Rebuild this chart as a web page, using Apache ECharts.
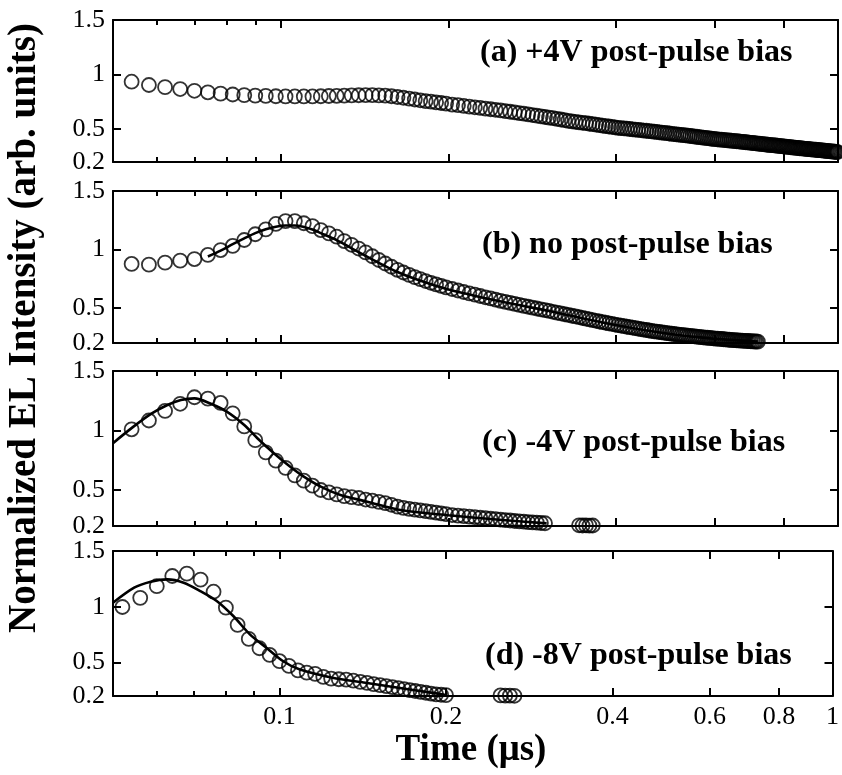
<!DOCTYPE html>
<html><head><meta charset="utf-8">
<script src="https://cdn.jsdelivr.net/npm/echarts@6/dist/echarts.min.js"></script>
<style>html,body{margin:0;padding:0;background:#fff}#c{width:842px;height:775px}</style>
</head><body><div id="c"></div>
<script>
// ---- sampling times (µs) for panels a, b, c ----
const timeMain = [
0.054,0.058,0.062,0.066,0.070,0.074,0.078,0.082,0.086,0.090,
0.094,0.098,0.102,0.106,0.110,0.114,0.118,0.122,0.126,0.130,
0.134,0.138,0.142,0.146,0.150,0.154,0.158,0.162,0.166,0.170,
0.174,0.178,0.182,0.186,0.190,0.194,0.198,
0.203,0.208,0.213,0.218,0.223,0.228,0.233,0.238,0.243,0.248,0.253,0.258,0.263,0.268,0.273,0.278,0.283,0.288,0.293,0.298,
0.303,0.308,0.313,0.318,0.323,0.328,0.333,0.338,0.343,0.348,0.353,0.358,0.363,0.368,0.373,0.378,0.383,0.388,0.393,0.398,
0.403,0.408,0.413,0.418,0.423,0.428,0.433,0.438,0.443,0.448,0.453,0.458,0.463,0.468,0.473,0.478,0.483,0.488,0.493,0.498,
0.503,0.508,0.513,0.518,0.523,0.528,0.533,0.538,0.543,0.548,0.553,0.558,0.563,0.568,0.573,0.578,0.583,0.588,0.593,0.598,
0.603,0.608,0.613,0.618,0.623,0.628,0.633,0.638,0.643,0.648,0.653,0.658,0.663,0.668,0.673,0.678,0.683,0.688,0.693,0.698,
0.703,0.708,0.713,0.718,0.723,0.728,0.733,0.738,0.743,0.748,0.753,0.758,0.763,0.768,0.773,0.778,0.783,0.788,0.793,0.798,
0.803,0.808,0.813,0.818,0.823,0.828,0.833,0.838,0.843,0.848,0.853,0.858,0.863,0.868,0.873,0.878,0.883,0.888,0.893,0.898,
0.903,0.908,0.913,0.918,0.923,0.928,0.933,0.938,0.943,0.948,0.953,0.958,0.963,0.968,0.973,0.978,0.983,0.988,0.993,0.998
];
// (a) +4V post-pulse bias
const valuesA = [
0.935,0.905,0.885,0.868,0.852,0.838,0.826,0.818,0.812,0.808,
0.805,0.802,0.800,0.800,0.800,0.800,0.802,0.804,0.806,0.808,
0.810,0.811,0.812,0.812,0.810,0.807,0.802,0.795,0.788,0.780,
0.772,0.765,0.758,0.752,0.746,0.740,0.735,
0.726,0.720,0.713,0.707,0.701,0.695,0.689,0.683,0.678,0.672,0.666,0.660,0.654,0.648,0.642,0.636,0.630,0.624,0.618,0.612,
0.607,0.601,0.595,0.589,0.583,0.577,0.572,0.568,0.563,0.559,0.555,0.550,0.546,0.542,0.538,0.533,0.529,0.525,0.521,0.517,
0.513,0.510,0.508,0.505,0.502,0.499,0.497,0.494,0.491,0.488,0.486,0.483,0.480,0.477,0.475,0.472,0.469,0.466,0.464,0.461,
0.458,0.456,0.453,0.451,0.448,0.446,0.443,0.441,0.438,0.436,0.433,0.431,0.428,0.426,0.423,0.421,0.418,0.416,0.413,0.411,
0.409,0.407,0.405,0.404,0.402,0.400,0.398,0.397,0.395,0.393,0.391,0.390,0.388,0.386,0.384,0.383,0.381,0.379,0.377,0.376,
0.374,0.372,0.371,0.369,0.367,0.366,0.364,0.362,0.360,0.358,0.357,0.355,0.354,0.352,0.351,0.349,0.348,0.346,0.345,0.343,
0.341,0.340,0.338,0.337,0.335,0.334,0.332,0.331,0.329,0.328,0.326,0.325,0.324,0.322,0.321,0.320,0.319,0.318,0.316,0.315,
0.314,0.313,0.312,0.310,0.309,0.308,0.307,0.306,0.304,0.303,0.302,0.301,0.300,0.298,0.297,0.296,0.295,0.294,0.292,0.291
];
// (b) no post-pulse bias
const valuesB = [
0.876,0.870,0.887,0.904,0.918,0.953,0.995,1.030,1.081,1.130,
1.172,1.218,1.243,1.243,1.224,1.200,1.166,1.138,1.109,1.072,
1.040,1.008,0.975,0.942,0.910,0.880,0.852,0.826,0.803,0.782,
0.763,0.746,0.730,0.715,0.701,0.688,0.676,
0.662,0.649,0.636,0.624,0.613,0.602,0.591,0.581,0.571,0.561,0.552,0.543,0.534,0.526,0.518,0.510,0.502,0.495,0.488,0.481,
0.474,0.467,0.460,0.453,0.446,0.440,0.433,0.427,0.421,0.414,0.408,0.402,0.396,0.390,0.384,0.379,0.373,0.368,0.363,0.358,
0.353,0.348,0.344,0.339,0.335,0.331,0.327,0.323,0.319,0.315,0.311,0.307,0.304,0.300,0.297,0.294,0.291,0.288,0.285,0.282,
0.279,0.277,0.274,0.272,0.269,0.267,0.265,0.262,0.260,0.258,0.256,0.254,0.252,0.250,0.248,0.246,0.245,0.243,0.241,0.240,
0.238,0.237,0.235,0.234,0.232,0.231,0.229,0.228,0.227,0.225,0.224,0.223,0.222,0.221,0.220,0.219,0.218,0.217,0.216,0.215,
0.214,0.213,0.213,0.212
];
const fitTimeB = [0.074,0.078,0.082,0.086,0.090,0.094,0.098,0.102,0.106,0.110,0.114,0.118,0.126,0.134,0.142,0.150,0.160,0.175,0.200,0.250,0.300,0.374,0.460,0.566,0.718];
const fitValB  = [0.940,0.990,1.045,1.095,1.140,1.172,1.195,1.205,1.205,1.192,1.170,1.140,1.080,1.010,0.945,0.885,0.818,0.745,0.658,0.552,0.478,0.380,0.303,0.248,0.212];
// (c) -4V post-pulse bias
const valuesC = [
1.011,1.085,1.165,1.225,1.280,1.268,1.232,1.145,1.035,0.920,
0.818,0.748,0.688,0.625,0.580,0.538,0.502,0.482,0.465,0.450,
0.442,0.435,0.422,0.412,0.402,0.392,0.378,0.362,0.352,0.344,
0.337,0.331,0.325,0.318,0.312,0.306,0.300,
0.292,0.287,0.283,0.278,0.274,0.269,0.265,0.261,0.257,0.253,0.249,0.246,0.242,0.239,0.236,0.233,0.230,0.228,0.225,0.223
];
const clusterTimeC = [0.343,0.348,0.353,0.358,0.363];
const clusterValC  = [0.206,0.204,0.205,0.203,0.204];
const fitTimeC = [0.050,0.0542,0.0585,0.0626,0.0662,0.070,0.0749,0.080,0.086,0.0908,0.0972,0.104,0.110,0.118,0.128,0.143,0.164,0.200,0.250,0.300];
const fitValC  = [0.895,1.027,1.140,1.215,1.257,1.270,1.225,1.159,1.047,0.936,0.810,0.697,0.614,0.530,0.460,0.404,0.334,0.290,0.250,0.222];
// (d) -8V post-pulse bias
const timeD = [
0.052,0.056,0.060,0.064,0.068,0.072,0.076,0.080,0.084,0.088,
0.092,0.096,0.100,0.104,0.108,0.112,0.116,0.120,0.124,0.128,
0.132,0.136,0.140,0.144,0.148,0.152,0.156,0.160,0.164,0.168,
0.172,0.176,0.180,0.184,0.188,0.192,0.196,0.200
];
const valuesD = [
0.998,1.080,1.185,1.276,1.297,1.243,1.135,0.992,0.838,0.712,
0.628,0.568,0.512,0.470,0.430,0.410,0.398,0.372,0.356,0.350,
0.347,0.337,0.327,0.317,0.307,0.298,0.289,0.279,0.270,0.262,
0.253,0.245,0.237,0.229,0.222,0.215,0.211,0.208
];
const clusterTimeD = [0.251,0.256,0.261,0.266];
const clusterValD  = [0.205,0.203,0.204,0.202];
const fitTimeD = [0.050,0.0546,0.0585,0.0627,0.0671,0.0719,0.077,0.0825,0.0884,0.0947,0.1014,0.1086,0.1246,0.143,0.164,0.188,0.200];
const fitValD  = [1.036,1.171,1.225,1.246,1.216,1.141,1.052,0.917,0.753,0.633,0.514,0.439,0.364,0.319,0.274,0.230,0.209];

// ---- axes ----
const xMajorTicks = [0.1,0.2,0.4,0.6,0.8];
const xMinorTicks = [0.06,0.07,0.08,0.09];
const xLabelValues = [0.1,0.2,0.4,0.6,0.8,1];
const yTickValues = [0.5,1];
const yLabelValues = [0.2,0.5,1,1.5];
const panelTitles = ['(a) +4V post-pulse bias','(b) no post-pulse bias','(c) -4V post-pulse bias','(d) -8V post-pulse bias'];
const xTitle = 'Time (μs)';
const yTitle = 'Normalized EL Intensity (arb. units)';

// ---- layout ----
const gridTops = [20,191,371,551];
const gridHeights = [142,152,155,145];
const titlePos = [[480,53],[482,245],[482,443],[485,656]];
const serif = '"Liberation Serif","Times New Roman",serif';

function pairs(ts, vs){ return vs.map((v,i)=>[ts[i], v]); }
const fmt = v => String(parseFloat(Number(v).toPrecision(4)));

const grids = [], xAxes = [], yAxes = [];
const xMain = [], yMain = [];
for (let i=0;i<4;i++){
  grids.push({left:113, right:4, top:gridTops[i], height:gridHeights[i], containLabel:false});
  ['bottom','top'].forEach((pos,k)=>{
    if (k===0) xMain.push(xAxes.length);
    xAxes.push({
      type:'log', logBase:10, gridIndex:i, min:0.05, max:1, position:pos,
      axisLine:{show:true,onZero:false,lineStyle:{color:'#000',width:2}},
      axisTick:{show:true,inside:true,length:8,customValues:xMajorTicks,lineStyle:{color:'#000',width:2}},
      minorTick:{show:false}, splitLine:{show:false},
      axisLabel:{show:(i===3 && k===0),customValues:xLabelValues,formatter:fmt,
        fontFamily:serif,fontSize:26,color:'#000',margin:8}
    });
    xAxes.push({
      type:'log', logBase:10, gridIndex:i, min:0.05, max:1, position:pos,
      axisLine:{show:false,onZero:false},
      axisTick:{show:true,inside:true,length:5,customValues:xMinorTicks,lineStyle:{color:'#000',width:2}},
      minorTick:{show:false}, splitLine:{show:false}, axisLabel:{show:false}
    });
  });
  ['left','right'].forEach((pos,k)=>{
    if (k===0) yMain.push(yAxes.length);
    yAxes.push({
      type:'value', gridIndex:i, min:0.2, max:1.5, position:pos,
      axisLine:{show:true,onZero:false,lineStyle:{color:'#000',width:2}},
      axisTick:{show:true,inside:true,length:8,customValues:yTickValues,lineStyle:{color:'#000',width:2}},
      splitLine:{show:false},
      axisLabel:{show:k===0,customValues:yLabelValues,formatter:fmt,
        fontFamily:serif,fontSize:26,color:'#000',margin:8}
    });
  });
}

const circleStyle = {color:'transparent',borderColor:'#000',borderWidth:1.8};
function scatter(i,data){
  return {type:'scatter',xAxisIndex:xMain[i],yAxisIndex:yMain[i],data:data,symbol:'circle',symbolSize:14,
    itemStyle:circleStyle,silent:true,z:2};
}
function fit(i,data){
  return {type:'line',xAxisIndex:xMain[i],yAxisIndex:yMain[i],data:data,symbol:'none',smooth:0.3,
    lineStyle:{color:'#000',width:2.6},silent:true,z:3};
}

const series = [
  scatter(0,pairs(timeMain,valuesA)),
  scatter(1,pairs(timeMain,valuesB)),
  fit(1,pairs(fitTimeB,fitValB)),
  scatter(2,pairs(timeMain,valuesC)),
  scatter(2,pairs(clusterTimeC,clusterValC)),
  fit(2,pairs(fitTimeC,fitValC)),
  scatter(3,pairs(timeD,valuesD)),
  scatter(3,pairs(clusterTimeD,clusterValD)),
  fit(3,pairs(fitTimeD,fitValD))
];

const graphics = panelTitles.map((t,i)=>({
  type:'text', x:titlePos[i][0], y:titlePos[i][1], z:10,
  style:{text:t, font:'bold 32px '+serif, fill:'#000', textAlign:'left', textVerticalAlign:'middle', align:'left', verticalAlign:'middle'}
}));
graphics.push({type:'text', x:471, y:750, z:10,
  style:{text:xTitle, font:'bold 37px '+serif, fill:'#000', textAlign:'center', textVerticalAlign:'middle', align:'center', verticalAlign:'middle'}});
graphics.push({type:'text', x:25, y:328, rotation:Math.PI/2, z:10,
  style:{text:yTitle, font:'bold 39px '+serif, fill:'#000', textAlign:'center', textVerticalAlign:'middle', align:'center', verticalAlign:'middle'}});

const chart = echarts.init(document.getElementById('c'), null, {renderer:'canvas'});
chart.setOption({
  animation:false, backgroundColor:'#fff',
  grid:grids, xAxis:xAxes, yAxis:yAxes, series:series, graphic:graphics
});
</script></body></html>
